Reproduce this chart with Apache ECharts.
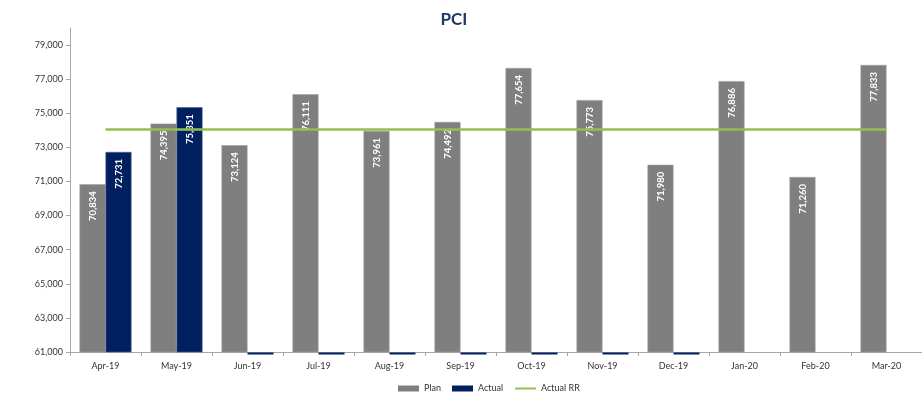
<!DOCTYPE html>
<html>
<head>
<meta charset="utf-8">
<script src="https://cdn.jsdelivr.net/npm/echarts@6/dist/echarts.min.js"></script>
<style>
  html, body { margin: 0; padding: 0; background: #fff; }
  #chart { width: 922px; height: 398px; }
</style>
</head>
<body>
<div id="chart"></div>
<script>
var months = ['Apr-19', 'May-19', 'Jun-19', 'Jul-19', 'Aug-19', 'Sep-19', 'Oct-19', 'Nov-19', 'Dec-19', 'Jan-20', 'Feb-20', 'Mar-20']
var plan = [70834, 74395, 73124, 76111, 73961, 74492, 77654, 75773, 71980, 76886, 71260, 77833]
// 0 = no actual yet (Excel draws it as a sliver under the axis), null = no entry
var actual = [72731, 75351, 0, 0, 0, 0, 0, 0, 0, null, null, null]
var actualRR = [74050, 74050, 74050, 74050, 74050, 74050, 74050, 74050, 74050, 74050, 74050, 74050]

var Y_MIN = 61000
var BAR_W = 26
var FONT = 'Lato, "Open Sans", sans-serif'

var barLabel = {
    show: true,
    position: 'insideTop',
    rotate: 90,
    align: 'right',
    verticalAlign: 'middle',
    distance: 7,
    color: '#fff',
    fontWeight: 'bold',
    fontSize: 9.5,
    fontFamily: FONT,
    formatter: function (p) { return p.value.toLocaleString('en-US') }
}

// months whose actual is 0: drawn as a thin sliver just under the axis
var zeroActual = []
actual.forEach(function (v, i) { if (v === 0) zeroActual.push([i, Y_MIN]) })

var myChart = echarts.init(document.getElementById('chart'))
myChart.setOption({
    animation: false,
    title: {
        text: 'PCI',
        left: 449,
        top: 6,
        textAlign: 'center',
        textStyle: { fontSize: 17, fontWeight: 'bold', color: '#1f3864', fontFamily: FONT }
    },
    legend: {
        bottom: 0,
        left: 393,
        itemWidth: 21,
        itemHeight: 6,
        itemGap: 11,
        textStyle: { fontSize: 9, color: '#333', fontFamily: FONT },
        data: [
            { name: 'Plan', icon: 'rect', itemStyle: { borderWidth: 0 } },
            { name: 'Actual', icon: 'rect', itemStyle: { borderWidth: 0 } },
            { name: 'Actual RR', itemStyle: { opacity: 0 } }
        ]
    },
    grid: { left: 70, right: -11, top: 28, bottom: 46 },
    xAxis: {
        type: 'category',
        data: months,
        axisLine: { lineStyle: { color: '#a6a6a6' } },
        axisTick: { show: true, length: 4, lineStyle: { color: '#a6a6a6' } },
        axisLabel: { fontSize: 9, color: '#333', margin: 10, fontFamily: FONT }
    },
    yAxis: {
        type: 'value',
        min: Y_MIN,
        max: 80000,
        interval: 2000,
        splitLine: { show: false },
        axisLine: { show: true, lineStyle: { color: '#a6a6a6' } },
        axisTick: { show: true, length: 4, lineStyle: { color: '#a6a6a6' } },
        axisLabel: {
            fontSize: 9, color: '#333', margin: 7, fontFamily: FONT, showMaxLabel: false,
            formatter: function (v) { return v.toLocaleString('en-US') }
        }
    },
    series: [
        {
            name: 'Plan',
            type: 'bar',
            barWidth: BAR_W,
            barGap: '0%',
            itemStyle: { color: '#7f7f7f', borderColor: '#a0a0a0', borderWidth: 0.6 },
            label: barLabel,
            data: plan
        },
        {
            name: 'Actual',
            type: 'bar',
            barWidth: BAR_W,
            itemStyle: { color: '#002060', borderColor: '#4a5f8a', borderWidth: 0.6 },
            label: barLabel,
            data: actual.map(function (v) { return v ? v : null })
        },
        {
            name: 'Actual',
            type: 'custom',
            clip: false,
            z: 3,
            renderItem: function (params, api) {
                var p = api.coord([api.value(0), api.value(1)])
                return {
                    type: 'rect',
                    shape: { x: p[0], y: p[1] + 0.5, width: BAR_W, height: 2 },
                    style: { fill: '#002060' }
                }
            },
            data: zeroActual
        },
        {
            name: 'Actual RR',
            type: 'line',
            symbol: 'none',
            lineStyle: { color: '#92c050', width: 2.5 },
            itemStyle: { color: '#92c050' },
            data: actualRR
        }
    ]
})
</script>
</body>
</html>
